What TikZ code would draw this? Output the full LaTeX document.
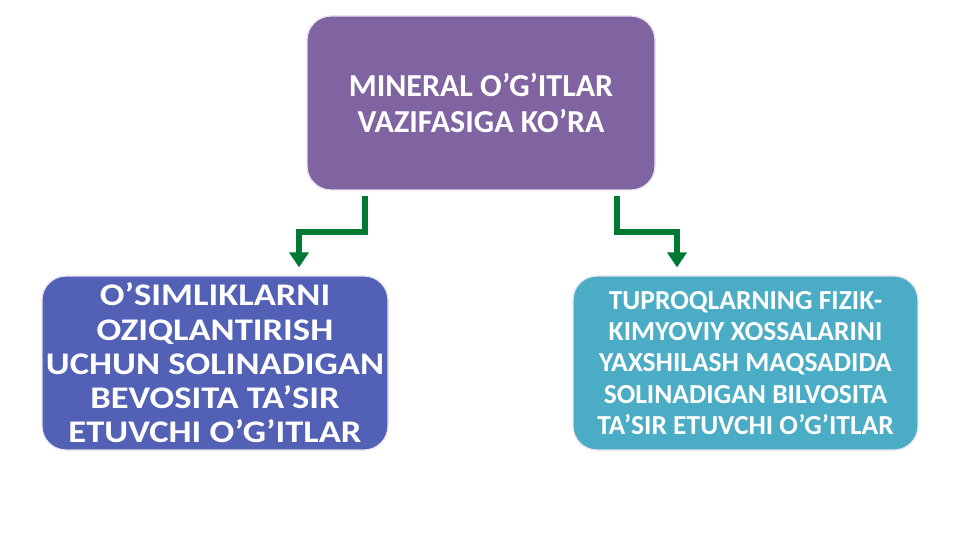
\documentclass[tikz,border=0pt]{standalone}
\usepackage{fontspec}
\setmainfont{Carlito}
\newfontfamily\widefont{Carlito}[FakeStretch=1.16]
\usetikzlibrary{arrows.meta}
\definecolor{topfill}{RGB}{128,100,162}
\definecolor{leftfill}{RGB}{82,96,182}
\definecolor{rightfill}{RGB}{75,172,198}
\definecolor{conngreen}{RGB}{0,122,51}
\definecolor{edgelight}{RGB}{232,226,240}
\tikzset{
  box/.style={draw=edgelight, line width=1.2pt, rounded corners=24pt, minimum width=#1, minimum height=174pt, inner sep=0pt, text=white, align=center, font=\bfseries},
  conn/.style={draw=conngreen, line width=6pt, -{Triangle[width=19pt,length=15pt]}, shorten <=5pt, shorten >=8pt}
}
\begin{document}
\begin{tikzpicture}[x=1pt,y=-1pt]
\useasboundingbox (0,0) rectangle (961,540);
\node[box=348pt, fill=topfill, font=\bfseries\fontsize{32}{36}\selectfont] (top) at (481,103) {MINERAL O’G’ITLAR\\VAZIFASIGA KO’RA};
\node[box=346pt, fill=leftfill, font=\widefont\bfseries\fontsize{31.5}{34.3}\selectfont] (left) at (215,363) {O’SIMLIKLARNI\\OZIQLANTIRISH\\UCHUN SOLINADIGAN\\BEVOSITA TA’SIR\\ETUVCHI O’G’ITLAR};
\node[box=345pt, fill=rightfill, font=\bfseries\fontsize{27.5}{31.3}\selectfont] (right) at (745.5,363) {TUPROQLARNING FIZIK-\\KIMYOVIY XOSSALARINI\\YAXSHILASH MAQSADIDA\\SOLINADIGAN BILVOSITA\\TA’SIR ETUVCHI O’G’ITLAR};
\coordinate (lb1) at (365,232);
\coordinate (lb2) at (299,232);
\coordinate (rb1) at (617,232);
\coordinate (rb2) at (677,232);
\draw[conn] (top.south -| lb1) -- (lb1) -- (lb2) -- (left.north -| lb2);
\draw[conn] (top.south -| rb1) -- (rb1) -- (rb2) -- (right.north -| rb2);
\end{tikzpicture}
\end{document}
